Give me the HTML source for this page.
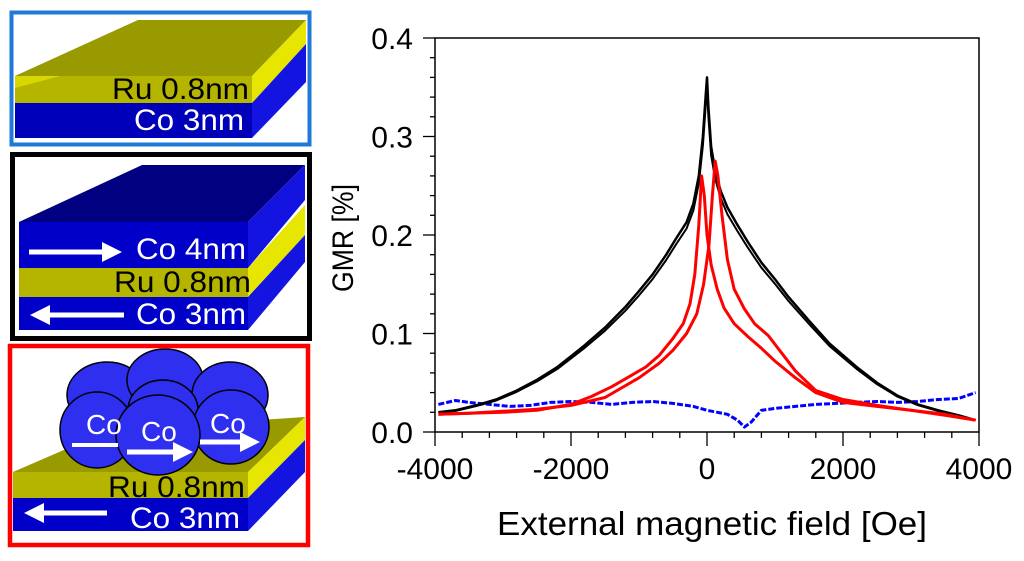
<!DOCTYPE html>
<html><head><meta charset="utf-8"><style>
body{margin:0;background:#fff;width:1024px;height:561px;overflow:hidden}
svg{display:block;font-family:"Liberation Sans",Arial,sans-serif}
</style></head><body>
<svg id="s" width="1024" height="561" viewBox="0 0 1024 561">
<defs>
<marker id="ah" markerWidth="4" markerHeight="4" refX="2" refY="2" orient="auto" markerUnits="strokeWidth"><path d="M0,0 L4,2 L0,4 z" fill="#fff"/></marker>
</defs>
<g>
<polygon points="15,76 138,20 306,20 252,76" fill="#999900"/>
<polygon points="15,76 252,76 252,103 15,103" fill="#b5b500"/>
<polygon points="15,88 60,76 15,76" fill="#d8d800"/>
<polygon points="252,76 306,20 306,44 252,103" fill="#e6e600"/>
<polygon points="15,103 252,103 252,138 15,138" fill="#0000b8"/>
<polygon points="252,103 306,44 306,82 252,138" fill="#1414e0"/>
<text x="249" y="99" font-size="30" text-anchor="end" fill="#000" textLength="137" lengthAdjust="spacingAndGlyphs">Ru 0.8nm</text>
<text x="244" y="130" font-size="30" text-anchor="end" fill="#fff" textLength="110" lengthAdjust="spacingAndGlyphs">Co 3nm</text>
<rect x="11.5" y="12.5" width="298" height="132" fill="none" stroke="#1e7ad6" stroke-width="4"/>
</g>
<g>
<polygon points="19,222 142,165 305,165 248,222" fill="#000080"/>
<polygon points="19,222 248,222 248,268 19,268" fill="#0000c8"/>
<polygon points="248,222 305,165 305,200 248,268" fill="#1414e0"/>
<polygon points="19,268 248,268 248,297 19,297" fill="#b5b500"/>
<polygon points="248,268 305,205 305,235 248,297" fill="#e6e600"/>
<polygon points="19,297 248,297 248,330 19,330" fill="#0000c8"/>
<polygon points="248,297 305,235 305,262 248,330" fill="#1414e0"/>
<line x1="29" y1="252" x2="112" y2="252" stroke="#fff" stroke-width="5" marker-end="url(#ah)"/>
<line x1="124" y1="315" x2="40" y2="315" stroke="#fff" stroke-width="5" marker-end="url(#ah)"/>
<text x="246" y="259" font-size="30" text-anchor="end" fill="#fff" textLength="110" lengthAdjust="spacingAndGlyphs">Co 4nm</text>
<text x="251" y="292" font-size="30" text-anchor="end" fill="#000" textLength="137" lengthAdjust="spacingAndGlyphs">Ru 0.8nm</text>
<text x="246" y="324" font-size="30" text-anchor="end" fill="#fff" textLength="110" lengthAdjust="spacingAndGlyphs">Co 3nm</text>
<rect x="12.5" y="154.5" width="297" height="184" fill="none" stroke="#000" stroke-width="5"/>
</g>
<g>
<polygon points="13,472 110,430 305,417 248,472" fill="#999900"/>
<polygon points="13,472 248,472 248,498 13,498" fill="#b5b500"/>
<polygon points="248,472 305,417 305,440 248,498" fill="#e6e600"/>
<polygon points="13,498 248,498 248,531 13,531" fill="#0000c8"/>
<polygon points="248,498 305,440 305,472 248,531" fill="#1414e0"/>
<g stroke="#000" stroke-width="1.5" fill="#2f2ff0">
<ellipse cx="107" cy="395" rx="40" ry="33"/>
<ellipse cx="165" cy="380" rx="38" ry="31"/>
<ellipse cx="230" cy="395" rx="38" ry="33"/>
<ellipse cx="163" cy="410" rx="35" ry="30"/>
<ellipse cx="97" cy="430" rx="37" ry="38"/>
<ellipse cx="231" cy="427" rx="38" ry="37"/>
<ellipse cx="158" cy="435" rx="42" ry="40"/>
</g>
<text x="86" y="434" font-size="28" fill="#fff">Co</text>
<text x="141" y="441" font-size="28" fill="#fff">Co</text>
<text x="210" y="433" font-size="28" fill="#fff">Co</text>
<line x1="72" y1="445" x2="118" y2="445" stroke="#fff" stroke-width="4"/>
<line x1="127" y1="452" x2="183" y2="452" stroke="#fff" stroke-width="5" marker-end="url(#ah)"/>
<line x1="200" y1="442" x2="250" y2="442" stroke="#fff" stroke-width="5" marker-end="url(#ah)"/>
<line x1="107" y1="513" x2="34" y2="513" stroke="#fff" stroke-width="5" marker-end="url(#ah)"/>
<text x="245" y="497" font-size="30" text-anchor="end" fill="#000" textLength="137" lengthAdjust="spacingAndGlyphs">Ru 0.8nm</text>
<text x="240" y="528" font-size="30" text-anchor="end" fill="#fff" textLength="110" lengthAdjust="spacingAndGlyphs">Co 3nm</text>
<rect x="10" y="346" width="298" height="199" fill="none" stroke="#f00" stroke-width="4.5"/>
</g>
<g id="chart"></g>
</svg>
<script>
const xTicks = [-4000, -2000, 0, 2000, 4000];
const yTicks = [0.0, 0.1, 0.2, 0.3, 0.4];
const yTickLabels = ["0.0", "0.1", "0.2", "0.3", "0.4"];
const blackX = [-3950,-3700,-3400,-3100,-2800,-2500,-2200,-2000,-1800,-1500,-1200,-1000,-800,-600,-450,-300,-200,-120,-60,-20,0,20,60,120,200,300,450,600,800,1000,1200,1500,1800,2000,2200,2500,2800,3100,3400,3700,3950];
const blackY = [0.02,0.022,0.027,0.033,0.042,0.053,0.066,0.077,0.088,0.106,0.127,0.143,0.16,0.18,0.197,0.213,0.232,0.26,0.3,0.34,0.36,0.33,0.29,0.265,0.245,0.228,0.21,0.193,0.172,0.155,0.137,0.113,0.09,0.078,0.066,0.05,0.037,0.028,0.022,0.017,0.012];
const redAX = [-3950,-3500,-3000,-2500,-2000,-1700,-1400,-1100,-900,-700,-500,-350,-250,-180,-120,-80,-40,0,60,150,250,400,600,800,1000,1300,1600,2000,2500,3000,3500,3950];
const redAY = [0.018,0.019,0.02,0.022,0.028,0.036,0.046,0.058,0.066,0.078,0.095,0.11,0.13,0.16,0.21,0.26,0.24,0.2,0.17,0.145,0.126,0.11,0.097,0.085,0.072,0.055,0.04,0.03,0.026,0.022,0.018,0.012];
const redBX = [-3950,-3500,-3000,-2500,-2000,-1500,-1000,-700,-500,-300,-150,-50,30,80,120,160,220,300,400,550,700,900,1100,1300,1600,2000,2500,3000,3500,3950];
const redBY = [0.018,0.019,0.021,0.023,0.027,0.035,0.055,0.07,0.083,0.1,0.12,0.15,0.19,0.24,0.275,0.26,0.22,0.175,0.145,0.125,0.11,0.098,0.08,0.062,0.042,0.033,0.027,0.022,0.017,0.012];
const blueX = [-3950,-3700,-3500,-3200,-2900,-2600,-2300,-2000,-1700,-1400,-1100,-800,-500,-200,0,150,300,450,550,650,800,1000,1300,1600,1900,2200,2500,2800,3100,3400,3700,3950];
const blueY = [0.028,0.032,0.03,0.028,0.026,0.027,0.03,0.031,0.03,0.028,0.03,0.031,0.029,0.026,0.022,0.02,0.018,0.012,0.005,0.01,0.022,0.024,0.026,0.028,0.029,0.03,0.031,0.03,0.031,0.033,0.034,0.04];
const NS='http://www.w3.org/2000/svg';
const L=435,R=979,T=38,B=432;
const sx=v=>L+(v+4000)/8000*(R-L);
const sy=v=>B-v/0.4*(B-T);
const g=document.getElementById('chart');
function mk(t,a,p){const e=document.createElementNS(NS,t);for(const k in a)e.setAttribute(k,a[k]);(p||g).appendChild(e);return e;}
function series(xs,ys,color,name,w,dash){
  let d='';
  xs.forEach((x,i)=>{d+=(i?'L':'M')+sx(x).toFixed(1)+','+sy(ys[i]).toFixed(1);});
  const p=mk('path',{d:d,fill:'none',stroke:color,'stroke-width':w,'stroke-linejoin':'round'});
  if(dash)p.setAttribute('stroke-dasharray',dash);
  
  
}
series(blueX,blueY,'#0000ff','series-blue',3,'6,2');
series(blackX,blackY,'#000','series-black',2.5);
series(blackX,blackY.map(v=>v*0.97),'#000','series-black-return',2);
series(redAX,redAY,'#ff0000','series-red-down',3);
series(redBX,redBY,'#ff0000','series-red-up',3);
const fr=mk('rect',{x:L,y:T,width:R-L,height:B-T,fill:'none',stroke:'#000','stroke-width':1.5});


for(let v=0;v<=0.4001;v+=0.02){const maj=Math.abs(v*10-Math.round(v*10))<1e-6;mk('line',{x1:L-(maj?12:5),x2:L,y1:sy(v),y2:sy(v),stroke:'#000','stroke-width':1.3});}
yTicks.forEach((v,i)=>{const t=mk('text',{x:L-22,y:sy(v)+11,'font-size':30,'text-anchor':'end',fill:'#000'});t.textContent=yTickLabels[i];

});
for(let v=-4000;v<=4000;v+=400){const maj=v%2000===0;mk('line',{x1:sx(v),x2:sx(v),y1:B,y2:B+(maj?14:6),stroke:'#000','stroke-width':1.3});}
xTicks.forEach(v=>{const t=mk('text',{x:sx(v),y:479,'font-size':30,'text-anchor':'middle',fill:'#000'});t.textContent=String(v);

});
const xt=mk('text',{x:(L+R)/2+5,y:535,'font-size':33,'text-anchor':'middle',fill:'#000',textLength:'430',lengthAdjust:'spacingAndGlyphs'});xt.textContent='External magnetic field [Oe]';


const yt=mk('text',{x:0,y:0,'font-size':30,'text-anchor':'middle',fill:'#000',textLength:'108',lengthAdjust:'spacingAndGlyphs',transform:'translate(353,238) rotate(-90)'});yt.textContent='GMR [%]';


</script>
</body></html>
